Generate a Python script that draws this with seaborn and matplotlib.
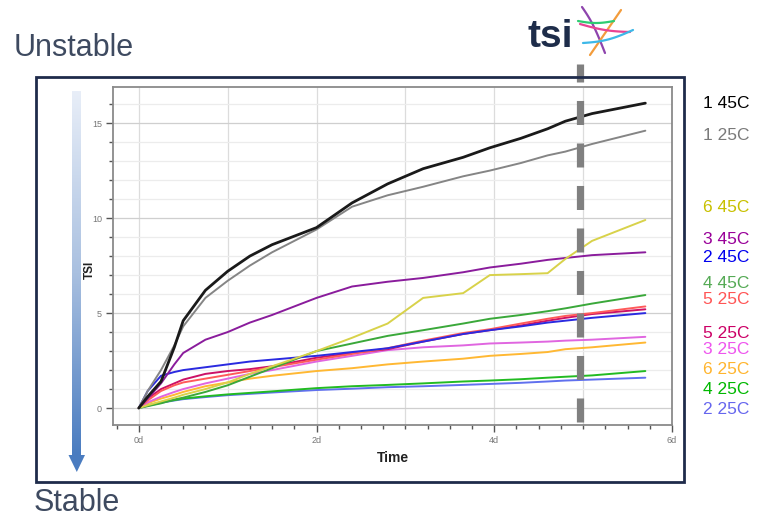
import numpy as np
import pandas as pd
import matplotlib
matplotlib.use("Agg")
import matplotlib.pyplot as plt
from matplotlib.patches import Rectangle, Polygon
from matplotlib.colors import LinearSegmentedColormap
import seaborn as sns

# ---- data: TSI vs. time (days) for each sample / storage temperature ----
days = [0, 0.1, 0.25, 0.4, 0.5, 0.75, 1.0, 1.25, 1.5, 2.0,
        2.4, 2.8, 3.2, 3.65, 3.95, 4.3, 4.6, 4.8, 5.1, 5.7]

tsi_1_45 = [0, 0.6, 1.4, 3.2, 4.6, 6.2, 7.2, 8.0, 8.6, 9.5,
            10.8, 11.8, 12.6, 13.2, 13.7, 14.2, 14.7, 15.1, 15.5, 16.05]
tsi_1_25 = [0, 0.9, 2.0, 3.3, 4.3, 5.8, 6.7, 7.5, 8.2, 9.4,
            10.6, 11.2, 11.65, 12.2, 12.5, 12.9, 13.3, 13.5, 13.9, 14.6]
tsi_6_45 = [0, 0.15, 0.35, 0.55, 0.7, 1.0, 1.35, 1.8, 2.2, 3.0,
            3.7, 4.45, 5.8, 6.05, 7.0, 7.05, 7.1, 7.85, 8.8, 9.9]
tsi_3_45 = [0, 0.5, 1.3, 2.3, 2.9, 3.6, 4.0, 4.5, 4.9, 5.8,
            6.4, 6.65, 6.85, 7.15, 7.4, 7.6, 7.8, 7.9, 8.05, 8.2]
tsi_2_45 = [0, 0.9, 1.7, 1.9, 2.0, 2.15, 2.3, 2.45, 2.55, 2.75,
            2.95, 3.15, 3.5, 3.9, 4.1, 4.3, 4.5, 4.6, 4.75, 5.0]
tsi_4_45 = [0, 0.1, 0.25, 0.45, 0.55, 0.85, 1.2, 1.65, 2.1, 3.0,
            3.4, 3.8, 4.1, 4.45, 4.7, 4.9, 5.1, 5.25, 5.5, 5.95]
tsi_5_25a = [0, 0.4, 0.9, 1.2, 1.35, 1.55, 1.75, 1.95, 2.15, 2.55,
             2.85, 3.15, 3.55, 3.95, 4.15, 4.45, 4.7, 4.85, 5.0, 5.35]
tsi_5_25b = [0, 0.5, 1.0, 1.3, 1.5, 1.8, 1.95, 2.05, 2.2, 2.65,
             2.9, 3.1, 3.5, 3.9, 4.1, 4.35, 4.6, 4.75, 4.95, 5.2]
tsi_3_25 = [0, 0.3, 0.6, 0.85, 1.0, 1.3, 1.55, 1.8, 2.0, 2.45,
            2.75, 3.05, 3.2, 3.3, 3.4, 3.45, 3.5, 3.55, 3.6, 3.75]
tsi_6_25 = [0, 0.25, 0.5, 0.7, 0.85, 1.15, 1.35, 1.55, 1.7, 1.95,
            2.1, 2.3, 2.45, 2.6, 2.75, 2.85, 2.95, 3.1, 3.2, 3.45]
tsi_4_25 = [0, 0.15, 0.3, 0.42, 0.5, 0.62, 0.72, 0.8, 0.88, 1.05,
            1.15, 1.22, 1.3, 1.4, 1.45, 1.52, 1.6, 1.65, 1.72, 1.95]
tsi_2_25 = [0, 0.12, 0.28, 0.4, 0.47, 0.58, 0.68, 0.75, 0.82, 0.95,
            1.02, 1.1, 1.15, 1.22, 1.27, 1.33, 1.4, 1.45, 1.5, 1.6]

series_labels = ["1 45C", "1 25C", "6 45C", "3 45C", "2 45C", "4 45C",
                 "5 25C", "5 25C", "3 25C", "6 25C", "4 25C", "2 25C"]
series_values = [tsi_1_45, tsi_1_25, tsi_6_45, tsi_3_45, tsi_2_45, tsi_4_45,
                 tsi_5_25a, tsi_5_25b, tsi_3_25, tsi_6_25, tsi_4_25, tsi_2_25]
line_colors = ["#1a1a1a", "#858585", "#d8d24a", "#8a1c9c", "#2a2ae0", "#3aa83a",
               "#ff5a5a", "#cc1166", "#e066e0", "#ffb833", "#22bb22", "#6070ee"]
label_colors = ["#000000", "#7a7a7a", "#c8c000", "#990099", "#0000ee", "#55aa55",
                "#ff5555", "#cc0066", "#ee55ee", "#ffb52e", "#00b800", "#6666ee"]

x_ticks = [0, 2, 4, 6]
x_tick_labels = ["0d", "2d", "4d", "6d"]
y_ticks = [0, 5, 10, 15]

# long-form table for seaborn
frames = []
for i, (lab, vals) in enumerate(zip(series_labels, series_values)):
    frames.append(pd.DataFrame({"series": i, "label": lab, "day": days, "tsi": vals}))
df = pd.concat(frames, ignore_index=True)

sns.set_style("white")
plt.rcParams["font.family"] = ["Liberation Sans", "DejaVu Sans"]
plt.rcParams["lines.scale_dashes"] = False

W, H = 759, 518
fig = plt.figure(figsize=(W / 100, H / 100), dpi=100)
fig.patch.set_facecolor("white")

# main plot area (pixel box 113..672 x 87..425)
ax = fig.add_axes([113 / W, 1 - 425 / H, (672 - 113) / W, (425 - 87) / H])
ax.set_facecolor("white")

for i in range(len(series_labels)):
    sub = df[df["series"] == i]
    sns.lineplot(data=sub, x="day", y="tsi", color=line_colors[i],
                 lw=2.0 if i == 0 else 1.4, ax=ax, legend=False,
                 estimator=None, sort=False, zorder=3 + (12 - i) * 0.01)

ax.set_xlim(-0.29, 6.0)
ax.set_ylim(-0.89, 16.9)

ax.set_xticks(x_ticks)
ax.set_xticklabels(x_tick_labels)
ax.set_xticks(np.arange(-0.25, 6.01, 0.25), minor=True)
ax.set_yticks(y_ticks)
ax.set_yticks(np.arange(0, 17, 1), minor=True)

# grid: every day vertically, every unit horizontally
for d in range(0, 6):
    ax.axvline(d, color="#dcdcdc", lw=0.9, zorder=1)
for v in range(0, 17):
    ax.axhline(v, color="#cfcfcf" if v % 5 == 0 else "#ececec", lw=0.9, zorder=1)

ax.tick_params(axis="both", which="major", direction="out", length=5, width=1,
               color="#555555", labelsize=6.5, labelcolor="#777777", pad=3)
ax.tick_params(axis="both", which="minor", direction="out", length=3, width=1,
               color="#555555")
ax.tick_params(left=True, bottom=True, which="both")

for side in ["left", "bottom", "top", "right"]:
    ax.spines[side].set_visible(True)
    ax.spines[side].set_color("#8a8a8a")
    ax.spines[side].set_linewidth(1.3)

ax.set_xlabel("Time", fontsize=10, fontweight="bold", color="#222222", labelpad=4)
ax.set_ylabel("TSI", fontsize=8.5, fontweight="bold", color="#222222")
ax.yaxis.set_label_coords((96 - 113) / 559, (425 - 270) / 338)

# marker for day 5
ax.axvline(4.97, ymin=(425 - 422) / 338, ymax=(425 - 64) / 338, clip_on=False,
           color="#808080", lw=5.2, solid_capstyle="butt", dash_capstyle="butt",
           linestyle=(0, (17.3, 13.3)), zorder=6)

# overlay in pixel coordinates for the decorations around the plot
ov = fig.add_axes([0, 0, 1, 1], zorder=5)
ov.set_xlim(0, W)
ov.set_ylim(H, 0)
ov.axis("off")
ov.patch.set_alpha(0)

ov.add_patch(Rectangle((36, 76.5), 648, 405.5, fill=False, edgecolor="#1f2b4b", lw=2))

# stability arrow
cmap = LinearSegmentedColormap.from_list("stab", ["#e8eef8", "#a9c0e0", "#4a7cc0"])
grad = np.linspace(0, 1, 256).reshape(-1, 1)
ov.imshow(grad, cmap=cmap, aspect="auto", extent=(72, 81, 455, 91), origin="upper", zorder=2)
ov.add_patch(Polygon([(68.5, 455), (85, 455), (76.8, 472)], closed=True,
                     facecolor="#4a7cc0", edgecolor="none", zorder=2))

ov.text(14, 56, "Unstable", fontsize=22, color="#3e4a60", ha="left", va="baseline")
ov.text(34, 511, "Stable", fontsize=22, color="#3e4a60", ha="left", va="baseline")

label_y = [103, 135, 208, 240, 258, 284, 300, 333, 349, 370, 390, 409]
for lab, col, yy in zip(series_labels, label_colors, label_y):
    ov.text(703, yy, lab, fontsize=12.5, color=col, ha="left", va="center")

# logo
ov.text(527, 47, "tsi", fontsize=28, fontweight="bold", color="#1e2d4a",
        ha="left", va="baseline")
t = np.linspace(0, 1, 30)
ov.plot(582 + 23 * t, 7 + 46 * t - 4 * np.sin(np.pi * t), color="#8e44ad", lw=1.6)
ov.plot(621 - 31 * t, 10 + 45 * t, color="#f39c3c", lw=1.6)
ov.plot(578 + 36 * t, 21 + 2 * np.sin(np.pi * t), color="#2ecc71", lw=1.6)
ov.plot(580 + 50 * t, 24 + 8 * t + 2 * np.sin(np.pi * t), color="#e84393", lw=1.6)
ov.plot(583 + 50 * t, 43 - 13 * t + 3 * np.sin(np.pi * t), color="#3db8e8", lw=1.6)

fig.savefig("out.png", dpi=100, facecolor="white")
